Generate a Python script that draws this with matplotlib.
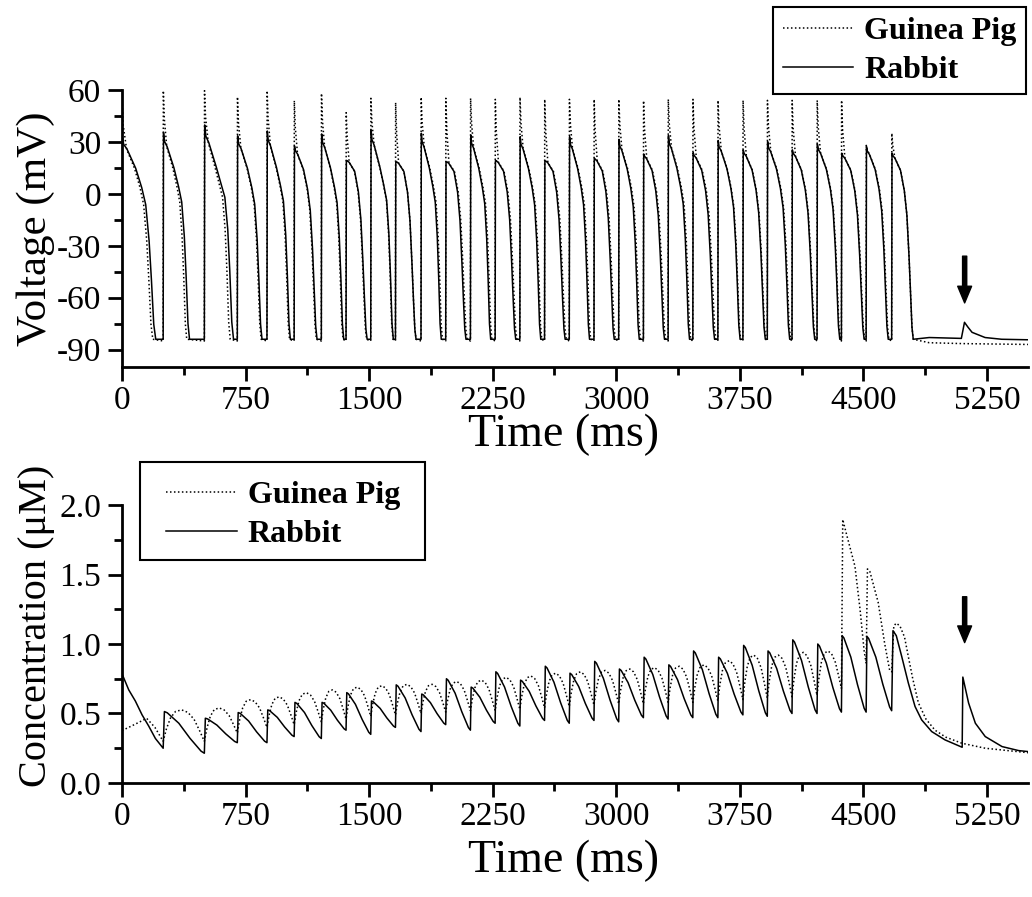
import numpy as np
import matplotlib.pyplot as plt
from matplotlib.ticker import MultipleLocator
from matplotlib.patches import Rectangle

plt.rcParams['font.family'] = ['Liberation Serif', 'DejaVu Serif']
plt.rcParams['axes.unicode_minus'] = False

# stimulus onsets (ms)
onset = [0, 250, 500, 700, 880, 1045, 1210, 1360, 1510, 1660, 1815, 1965, 2115, 2265, 2415,
         2565, 2715, 2865, 3015, 3165, 3315, 3465, 3617, 3769, 3917, 4067, 4219, 4367, 4517, 4672]

# action potentials
rb_peak = [33, 35.4, 39.8, 33.5, 36.3, 27.7, 34.6, 19.2, 36.9, 18.3, 35, 18.3, 34, 19.2, 33,
           19, 33, 20.6, 31.5, 23, 33.7, 23.8, 30.8, 25.4, 30.2, 25.4, 28.8, 23.5, 27.3, 23.5]
rb_end = [205, 410, 677, 850, 1022, 1184, 1346, 1488, 1647, 1785, 1938, 2088, 2238, 2390, 2542,
          2690, 2838, 2988, 3140, 3293, 3445, 3597, 3752, 3905, 4053, 4205, 4357, 4505, 4651, 4803]
gp_peak = [54, 59.6, 59.6, 56, 59.6, 53.8, 58, 46.9, 55.2, 52.7, 55.8, 55.2, 55.2, 54.6, 55.8,
           54.6, 54.6, 54.6, 54.6, 53.8, 54.6, 54.6, 54, 54, 54, 54, 54, 54, 28, 35]
gp_end = [187, 393, 657, 845, 1017, 1180, 1342, 1485, 1645, 1785, 1945, 2095, 2245, 2397, 2548,
          2697, 2845, 2995, 3147, 3300, 3452, 3605, 3755, 3908, 4058, 4208, 4360, 4508, 4655, 4803]
rb_start = 31

# AP shape (fraction of APD -> mV) for a tall beat (t=250) and a short beat (t=1360)
ap_frac = [0.0, 0.04, 0.14, 0.40, 0.58, 0.70, 0.80, 0.87, 0.94, 1.0]
ap_tall = [35, 30, 27, 15, 4, -5, -25, -48, -75, -84]
ap_short = [19, 19, 18, 13, 1, -15, -40, -60, -78, -84]

# after the last beat
rb_vtail_t = [4900, 5095, 5100, 5114, 5135, 5160, 5239, 5340, 5500]
rb_vtail_v = [-83, -83.5, -81, -74.2, -77, -80, -83, -84, -84.3]
gp_vtail_t = [4900, 5100, 5500]
gp_vtail_v = [-86, -86.5, -87]

# calcium transients
ca_rb_peak = [0.514, 0.466, 0.507, 0.526, 0.58, 0.58, 0.65, 0.59, 0.706, 0.64, 0.75, 0.69, 0.80,
              0.74, 0.84, 0.79, 0.875, 0.82, 0.905, 0.85, 0.95, 0.905, 0.99, 0.95, 1.03, 1.00,
              1.06, 1.055, 1.096]
ca_rb_trough = [0.25, 0.214, 0.29, 0.29, 0.334, 0.32, 0.38, 0.35, 0.40, 0.37, 0.42, 0.38, 0.43,
                0.41, 0.45, 0.43, 0.45, 0.44, 0.47, 0.46, 0.47, 0.47, 0.49, 0.48, 0.50, 0.50,
                0.51, 0.51, 0.52]
ca_rb_head_t = [0, 41, 81, 122, 162, 203, 250]
ca_rb_head_v = [0.786, 0.67, 0.59, 0.49, 0.41, 0.32, 0.25]
ca_rb_tail_t = [4680, 4700, 4733, 4773, 4814, 4854, 4915, 4996, 5100, 5104, 5139, 5180, 5240,
                5342, 5443, 5500]
ca_rb_tail_v = [1.096, 1.06, 0.91, 0.72, 0.55, 0.454, 0.37, 0.31, 0.257, 0.762, 0.575, 0.43,
                0.334, 0.262, 0.233, 0.226]
ca_frac = [0.03, 0.10, 0.38, 0.65, 0.92]
ca_shape = [1.0, 0.97, 0.72, 0.36, 0.05]

ca_gp_peak = [0.526, 0.54, 0.60, 0.62, 0.65, 0.67, 0.69, 0.70, 0.71, 0.71, 0.73, 0.74, 0.76,
              0.77, 0.79, 0.80, 0.81, 0.82, 0.83, 0.84, 0.85, 0.88, 0.92, 0.92, 0.94, 0.95]
ca_gp_trough = [0.30, 0.30, 0.36, 0.40, 0.42, 0.44, 0.46, 0.48, 0.49, 0.50, 0.51, 0.52, 0.52,
                0.53, 0.54, 0.55, 0.56, 0.57, 0.57, 0.58, 0.58, 0.59, 0.60, 0.61, 0.62, 0.63,
                0.68]
ca_gp_head_t = [0, 75, 150, 200, 250]
ca_gp_head_v = [0.377, 0.42, 0.465, 0.40, 0.30]
ca_gp_tail_t = [4375, 4400, 4449, 4480, 4505, 4517, 4525, 4540, 4590, 4630, 4660, 4672, 4685,
                4700, 4722, 4750, 4773, 4800, 4834, 4880, 4935, 5000, 5098, 5240, 5500]
ca_gp_tail_v = [1.896, 1.78, 1.56, 1.25, 0.95, 0.86, 1.54, 1.52, 1.30, 1.0, 0.81, 0.80, 1.13,
                1.15, 1.13, 1.05, 0.91, 0.75, 0.577, 0.46, 0.38, 0.33, 0.286, 0.25, 0.218]
ca_gp_frac = [0.08, 0.18, 0.30, 0.45, 0.60, 0.75, 0.88]
ca_gp_shape = [0.4, 0.75, 0.95, 1.0, 0.92, 0.7, 0.35]

# ---- build the traces ----
nb = len(onset)
fr = np.array(ap_frac)
tall = np.array(ap_tall)
short = np.array(ap_short)
keep = fr >= 0.14

rb_t, rb_v, gp_t, gp_v = [], [], [], []
for i in range(nb):
    t0 = onset[i]
    w = (rb_peak[i] - short[0]) / (tall[0] - short[0])
    shape = short + w * (tall - short)
    if i == 0:
        rb_t.append(0); rb_v.append(rb_start)
    else:
        rb_t.append(t0); rb_v.append(-84)
        gp_t.append(t0); gp_v.append(-85)
    rb_t += list(t0 + 2 + fr * (rb_end[i] - t0 - 2))
    rb_v += list(shape)
    gp_t += [t0 + 1, t0 + 7] + list(t0 + 2 + fr[keep] * (gp_end[i] - t0 - 2))
    gp_v += [gp_peak[i], 0.5 * (gp_peak[i] + shape[2])] + list(shape[keep])
rb_t += rb_vtail_t; rb_v += rb_vtail_v
gp_t += gp_vtail_t; gp_v += gp_vtail_v

crb_t, crb_v = list(ca_rb_head_t), list(ca_rb_head_v)
for i in range(1, nb - 1):
    t0, t1 = onset[i], onset[i + 1]
    pk, lo = ca_rb_peak[i - 1], ca_rb_trough[i]
    crb_t += list(t0 + np.array(ca_frac) * (t1 - t0)) + [t1]
    crb_v += list(lo + np.array(ca_shape) * (pk - lo)) + [lo]
crb_t += ca_rb_tail_t; crb_v += ca_rb_tail_v

cgp_t, cgp_v = list(ca_gp_head_t), list(ca_gp_head_v)
for i in range(1, len(ca_gp_peak) + 1):
    t0, t1 = onset[i], onset[i + 1]
    pk, lo0, lo1 = ca_gp_peak[i - 1], ca_gp_trough[i - 1], ca_gp_trough[i]
    for f, s in zip(ca_gp_frac, ca_gp_shape):
        base = lo0 if f <= 0.45 else lo1
        cgp_t.append(t0 + f * (t1 - t0)); cgp_v.append(base + s * (pk - base))
    cgp_t.append(t1); cgp_v.append(lo1)
cgp_t += ca_gp_tail_t; cgp_v += ca_gp_tail_v

# ---- draw ----
fig = plt.figure(figsize=(10.32, 8.97), dpi=100)
ax1 = fig.add_axes([0.1182, 0.5909, 0.878, 0.3088])
ax2 = fig.add_axes([0.1182, 0.1271, 0.878, 0.3099])

dots = (0, (1, 1.6))
ax1.plot(gp_t, gp_v, color='k', lw=1.1, ls=dots, label='Guinea Pig')
ax1.plot(rb_t, rb_v, color='k', lw=1.1, label='Rabbit')
ax2.plot(cgp_t, cgp_v, color='k', lw=1.1, ls=dots, label='Guinea Pig')
ax2.plot(crb_t, crb_v, color='k', lw=1.1, label='Rabbit')

ax1.set_ylim(-100, 60)
ax2.set_ylim(0, 2.0)
ax1.yaxis.set_major_locator(MultipleLocator(30))
ax1.yaxis.set_minor_locator(MultipleLocator(15))
ax2.yaxis.set_major_locator(MultipleLocator(0.5))
ax2.yaxis.set_minor_locator(MultipleLocator(0.25))
ax2.yaxis.set_major_formatter(plt.FormatStrFormatter('%.1f'))

for ax in (ax1, ax2):
    ax.set_xlim(0, 5500)
    ax.xaxis.set_major_locator(MultipleLocator(750))
    ax.xaxis.set_minor_locator(MultipleLocator(375))
    for s in ('top', 'right'):
        ax.spines[s].set_visible(False)
    for s in ('left', 'bottom'):
        ax.spines[s].set_linewidth(2)
    ax.tick_params(which='major', direction='out', length=10, width=2, labelsize=24)
    ax.tick_params(which='minor', direction='out', length=6, width=2)
    ax.tick_params(axis='y', pad=5)
    ax.tick_params(axis='x', pad=3)
    ax.set_xlabel('Time (ms)', fontsize=33)

ax1.xaxis.set_label_coords(0.487, -0.17)
ax2.xaxis.set_label_coords(0.487, -0.205)
ax1.set_ylabel('Voltage (mV)', fontsize=31)
ax2.set_ylabel('Concentration (\u03bcM)', fontsize=29)
ax1.yaxis.set_label_coords(-0.074, 0.5)
ax2.yaxis.set_label_coords(-0.074, 0.565)

arrow = dict(facecolor='k', edgecolor='k', width=3, headwidth=10, headlength=12)
ax1.annotate('', xy=(5115, -63), xytext=(5115, -36), arrowprops=arrow)
ax2.annotate('', xy=(5115, 1.01), xytext=(5115, 1.34), arrowprops=arrow)

font_leg = {'weight': 'bold', 'size': 23}
l1 = ax1.legend(loc='upper right', bbox_to_anchor=(1026 / 1032, 1 - 7 / 897),
                bbox_transform=fig.transFigure, prop=font_leg, handlelength=2.2,
                handletextpad=0.35, labelspacing=0.3, borderpad=0.3, borderaxespad=0,
                fancybox=False, edgecolor='k', framealpha=1)
l1.get_frame().set_linewidth(1.5)

l2 = ax2.legend(loc='upper left', bbox_to_anchor=(160 / 1032, 1 - 474 / 897),
                bbox_transform=fig.transFigure, prop=font_leg, handlelength=2.2,
                handletextpad=0.35, labelspacing=0.3, borderpad=0.2, borderaxespad=0,
                frameon=False)
fig.add_artist(Rectangle((140 / 1032, 1 - 560 / 897), 285 / 1032, 98 / 897,
                         transform=fig.transFigure, fill=False, edgecolor='k', lw=1.5))

fig.savefig('out.png', dpi=100)
